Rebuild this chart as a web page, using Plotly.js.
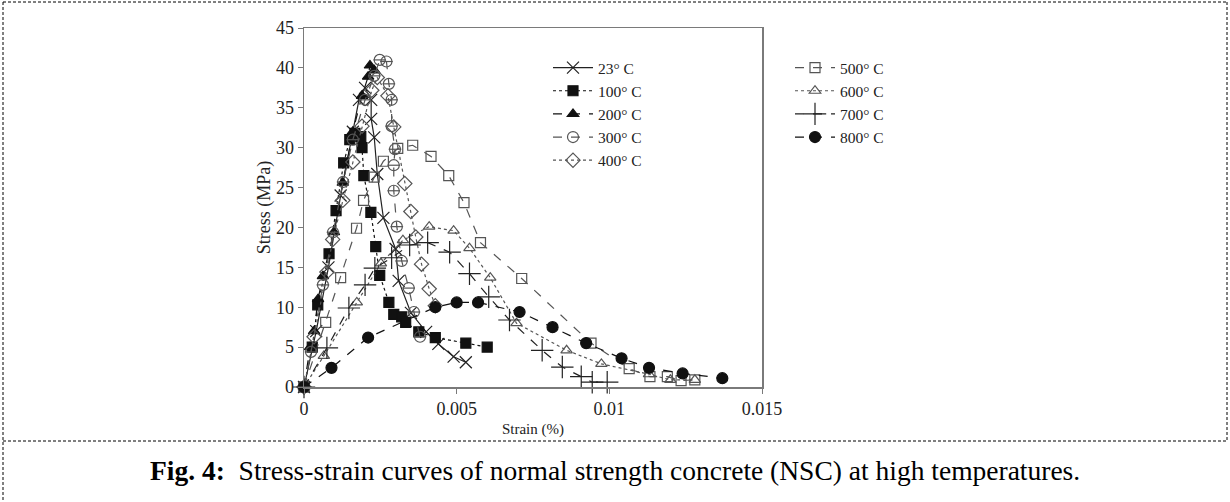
<!DOCTYPE html>
<html>
<head>
<meta charset="utf-8">
<script src="https://cdn.plot.ly/plotly-3.0.1.min.js"></script>
<style>
html,body{margin:0;padding:0;background:#fff;}
#chart{width:1230px;height:502px;}
</style>
</head>
<body>
<div id="chart"></div>
<script>
// ---- data (strain, stress) ----
const names = ["23° C","100° C","200° C","300° C","400° C","500° C","600° C","700° C","800° C"];

const x23 = [0,0.0004,0.0008,0.0012,0.0016,0.0018,0.0020,0.0022,0.0022,0.0023,0.0024,0.0026,0.0030,0.0031,0.0035,0.0040,0.0044,0.0049,0.0053];
const y23 = [0,7,15,24,32,36,37.5,36,33.6,31.3,26.7,21.2,17.3,13.3,9.3,6.9,5.4,3.8,3.1];

const x100 = [0,0.00027,0.00045,0.00082,0.00105,0.0013,0.0015,0.00167,0.00186,0.0019,0.00196,0.00219,0.00235,0.00248,0.00278,0.00294,0.0032,0.00333,0.00376,0.0043,0.0053,0.006];
const y100 = [0,5.0,10.3,16.7,22.1,28.1,31.0,31.8,31.4,30.0,26.5,21.9,17.6,14.0,10.6,9.1,8.8,8.1,6.9,6.2,5.5,5.0];

const x200 = [0,0.0002,0.00033,0.00046,0.00062,0.00098,0.00127,0.0016,0.0019,0.0021,0.00216,0.0023];
const y200 = [0,5,7.0,11.0,13.9,19.4,25.6,32,36.5,38.9,40.3,39.7];

const x300 = [0,0.00023,0.00062,0.00095,0.00128,0.0016,0.002,0.0023,0.00248,0.0027,0.00278,0.00287,0.00287,0.00298,0.00294,0.00294,0.00304,0.0032,0.00343,0.0036,0.0038];
const y300 = [0,4.4,12.8,19.4,25.7,31,36,39,41.0,40.8,38.0,36.0,32.7,29.8,27.8,24.6,20.1,15.8,12.4,9.4,6.3];

const x400 = [0,0.00033,0.00075,0.00094,0.00127,0.0016,0.0019,0.00222,0.0024,0.00275,0.00294,0.0033,0.0035,0.00366,0.00385,0.0041,0.0043];
const y400 = [0,6.3,14.4,18.5,23.4,28.2,32.7,37.2,38.8,36.5,32.6,25.5,22.0,18.8,15.4,12.3,10.2];

const x500 = [0,0.00071,0.0012,0.00172,0.00195,0.0023,0.0026,0.00307,0.00356,0.00416,0.00474,0.00524,0.00578,0.00713,0.0094,0.01065,0.01133,0.0119,0.01235,0.0128];
const y500 = [0,8.1,13.7,19.9,23.4,26.3,28.3,29.9,30.3,28.9,26.5,23.1,18.1,13.6,5.5,2.3,1.3,1.3,0.8,0.9];

const x600 = [0,0.00065,0.00173,0.00252,0.00324,0.0041,0.0049,0.00542,0.0061,0.00696,0.0086,0.00974,0.0113,0.012,0.0128];
const y600 = [0,3.9,10.6,15.5,18.4,20.1,19.6,17.4,13.7,8.0,4.6,2.9,1.6,0.9,0.9];

const x700 = [0,0.00075,0.00147,0.002,0.00232,0.00287,0.00346,0.00405,0.00477,0.00542,0.00605,0.00673,0.0078,0.00846,0.00908,0.00944,0.00993];
const y700 = [0,4.9,9.9,12.8,14.9,16.2,17.8,18.1,16.9,14.2,11.3,8.4,4.6,2.5,1.3,0.6,0.6];

const x800 = [0,0.0009,0.0021,0.0043,0.005,0.0057,0.00706,0.00814,0.00924,0.0104,0.0113,0.0124,0.0137];
const y800 = [0,2.4,6.2,10.0,10.6,10.6,9.4,7.5,5.5,3.6,2.4,1.7,1.1];

const xTicks = [0,0.005,0.01,0.015];
const xTickText = ["0","0.005","0.01","0.015"];
const yTicks = [0,5,10,15,20,25,30,35,40,45];

// ---- traces ----
function tr(x,y,name,sym,dash,size,col,legend){
  return {x:x,y:y,name:name,type:'scatter',mode:'lines+markers',cliponaxis:false,legend:legend,
    line:{color:col,width:1.2,dash:dash},
    marker:{symbol:sym,size:size,color:col,line:{color:col,width:1.2}}};
}
const dark='#222', grey='#555';
const traces = [
  tr(x23,y23,names[0],'x-thin-open','solid',12,dark,'legend'),
  tr(x100,y100,names[1],'square','dot',10,'#111','legend'),
  tr(x200,y200,names[2],'triangle-up','dash',10,'#111','legend'),
  tr(x300,y300,names[3],'circle-open','dash',11,grey,'legend'),
  tr(x400,y400,names[4],'diamond-open','dot',11,grey,'legend'),
  tr(x500,y500,names[5],'square-open','dash',10,grey,'legend2'),
  tr(x600,y600,names[6],'triangle-up-open','dot',10,grey,'legend2'),
  tr(x700,y700,names[7],'cross-thin-open','dash',16,dark,'legend2'),
  tr(x800,y800,names[8],'circle','dash',11,'#111','legend2')
];
// horizontal bar inside the 300 °C circles
traces.push({x:x300,y:y300,type:'scatter',mode:'markers',showlegend:false,cliponaxis:false,hoverinfo:'skip',
  marker:{symbol:'line-ew-open',size:9,color:grey,line:{color:grey,width:1.2}}});

// ---- pixel helpers for paper coords ----
const L=304,R=762,T=28,B=387;
const px=v=>(v-L)/(R-L), py=v=>(B-v)/(B-T);

const dashLine={color:'#000',width:1,dash:'3px,2px'};
const layout = {
  width:1230,height:502,
  margin:{l:L,r:1230-R,t:T,b:502-B},
  paper_bgcolor:'#fff',plot_bgcolor:'#fff',
  font:{family:'"Liberation Serif", "DejaVu Serif", serif',color:'#222',size:15},
  showlegend:true,
  xaxis:{range:[0,0.015],tickvals:xTicks,ticktext:xTickText,showgrid:false,zeroline:false,
    showline:true,linecolor:'#7a7a7a',linewidth:1.5,mirror:true,ticks:'outside',ticklen:5,tickcolor:'#7a7a7a',
    tickfont:{size:18},title:{text:'Strain (%)',font:{size:15},standoff:5}},
  yaxis:{range:[0,45],tickvals:yTicks,showgrid:false,zeroline:false,
    showline:true,linecolor:'#7a7a7a',linewidth:1.5,mirror:true,ticks:'outside',ticklen:5,tickcolor:'#7a7a7a',
    tickfont:{size:18},title:{text:'Stress (MPa)',font:{size:18},standoff:0}},
  legend:{x:px(548),y:py(51),xanchor:'left',yanchor:'top',bgcolor:'rgba(0,0,0,0)',font:{size:15.5},itemwidth:40,tracegroupgap:0},
  legend2:{x:px(790),y:py(51),xanchor:'left',yanchor:'top',bgcolor:'rgba(0,0,0,0)',font:{size:15.5},itemwidth:40,tracegroupgap:0},
  shapes:[
    {type:'line',xref:'paper',yref:'paper',x0:px(3),x1:px(1227),y0:py(2),y1:py(2),line:dashLine},
    {type:'line',xref:'paper',yref:'paper',x0:px(3),x1:px(1227),y0:py(441),y1:py(441),line:dashLine},
    {type:'line',xref:'paper',yref:'paper',x0:px(3),x1:px(3),y0:py(2),y1:py(502),line:dashLine},
    {type:'line',xref:'paper',yref:'paper',x0:px(1227),x1:px(1227),y0:py(2),y1:py(441),line:dashLine}
  ],
  annotations:[
    {xref:'paper',yref:'paper',x:px(615),y:py(470),xanchor:'center',yanchor:'middle',showarrow:false,
     text:'<b>Fig. 4:</b>  Stress-strain curves of normal strength concrete (NSC) at high temperatures.',
     font:{size:27.5,color:'#000',family:'"Liberation Serif", serif'}}
  ]
};
Plotly.newPlot('chart',traces,layout,{displayModeBar:false,staticPlot:true});
</script>
</body>
</html>
